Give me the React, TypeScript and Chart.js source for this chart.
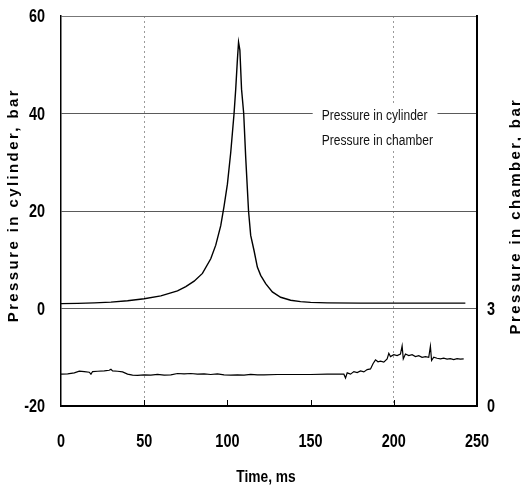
import React, { useEffect, useRef } from 'react';
import { Chart, registerables } from 'chart.js';

Chart.register(...registerables);

// ---- data ----
const seriesLabels = ['Pressure in cylinder', 'Pressure in chamber'];
const xTitle = 'Time, ms';
const leftTitle = 'Pressure in cylinder, bar';
const rightTitle = 'Pressure in chamber, bar';

const xTickValues = [0, 50, 100, 150, 200, 250];
const leftTickValues = [-20, 0, 20, 40, 60];
const rightTickValues = [0, 3];

// cylinder pressure (left axis, bar)
const cylTime = [0, 10, 20, 30, 40, 50, 60, 70, 75, 80, 85, 90, 93, 96, 98, 100, 102, 104, 105, 106, 106.7, 107.5, 108.5, 109.8, 111, 112.7, 114, 116, 118, 120, 123, 127, 132, 138, 144, 150, 160, 180, 200, 220, 243];
const cylPressure = [1.0, 1.05, 1.15, 1.3, 1.6, 2.0, 2.6, 3.6, 4.5, 5.6, 7.2, 10.2, 13, 17, 21, 25.5, 32, 40, 45, 51, 54.6, 53, 45, 40, 31, 20, 15, 11.9, 8.5, 6.8, 5.1, 3.4, 2.3, 1.7, 1.4, 1.25, 1.15, 1.1, 1.1, 1.1, 1.1];

// chamber pressure (right axis, bar)
const chTime = [0, 4, 8, 11, 14, 17, 18, 19, 22, 26, 29, 30, 31, 34, 37, 40, 43, 46, 50, 54, 58, 62, 66, 70, 74, 78, 82, 86, 90, 94, 98, 102, 106, 110, 114, 118, 122, 130, 140, 150, 160, 170, 171, 172, 174, 176, 178, 180, 182, 184, 186, 187.5, 189, 190.5, 192, 194, 196, 197, 198, 200, 202, 204, 205, 205.7, 207, 209, 211, 213, 215, 217, 219, 221, 222, 222.7, 224, 226, 228, 230, 232, 234, 236, 238, 240, 242];
const chPressure = [0.98, 0.99, 1.02, 1.07, 1.06, 1.04, 0.98, 1.06, 1.07, 1.08, 1.1, 1.13, 1.08, 1.07, 1.05, 0.98, 0.95, 0.94, 0.96, 0.95, 0.97, 0.95, 0.96, 1.0, 0.99, 1.0, 0.98, 0.99, 0.97, 0.99, 0.96, 0.95, 0.96, 0.95, 0.97, 0.96, 0.96, 0.97, 0.97, 0.97, 0.98, 0.98, 0.86, 1.02, 0.98, 1.06, 1.03, 1.08, 1.05, 1.12, 1.14, 1.3, 1.42, 1.36, 1.38, 1.35, 1.45, 1.62, 1.52, 1.58, 1.55, 1.6, 1.85, 1.45, 1.6, 1.55, 1.58, 1.52, 1.55, 1.5, 1.52, 1.5, 1.84, 1.4, 1.5, 1.47, 1.45, 1.47, 1.44, 1.46, 1.43, 1.46, 1.44, 1.45];

const SANS = "'Liberation Sans', Arial, sans-serif";

// draws horizontally condensed text (Arial-Narrow look)
function narrowText(
  ctx: CanvasRenderingContext2D,
  text: string,
  x: number,
  y: number,
  align: CanvasTextAlign,
  font: string,
  sx: number,
) {
  ctx.save();
  ctx.translate(x, y);
  ctx.scale(sx, 1);
  ctx.font = font;
  ctx.textAlign = align;
  ctx.textBaseline = 'middle';
  ctx.fillText(text, 0, 0);
  ctx.restore();
}

const overlayPlugin = {
  id: 'overlay',
  afterDraw(chart: any) {
    const ctx = chart.ctx as CanvasRenderingContext2D;
    const { left, right, top, bottom } = chart.chartArea;
    const w = right - left;
    const h = bottom - top;
    const xs = chart.scales.x;
    const ys = chart.scales.y;
    const y1 = chart.scales.y1;

    // inner tick marks on the time axis
    ctx.save();
    ctx.strokeStyle = '#000';
    ctx.lineWidth = 1;
    for (const t of xs.ticks.slice(1, -1)) {
      const px = Math.round(xs.getPixelForValue(t.value)) + 0.5;
      ctx.beginPath();
      ctx.moveTo(px, bottom);
      ctx.lineTo(px, bottom - 6);
      ctx.stroke();
    }
    ctx.restore();

    // tick labels
    ctx.save();
    ctx.fillStyle = '#000';
    const tickFont = `bold 19px ${SANS}`;
    for (const t of xs.ticks) {
      narrowText(ctx, String(t.value), xs.getPixelForValue(t.value), bottom + 36, 'center', tickFont, 0.76);
    }
    for (const t of ys.ticks) {
      narrowText(ctx, String(t.value), left - 16, ys.getPixelForValue(t.value) + 1, 'right', tickFont, 0.76);
    }
    for (const t of y1.ticks) {
      narrowText(ctx, String(t.value), right + 10, y1.getPixelForValue(t.value) + 1, 'left', tickFont, 0.76);
    }
    // x title
    narrowText(ctx, xTitle, (left + right) / 2 - 3, bottom + 72, 'center', `bold 16px ${SANS}`, 0.86);
    ctx.restore();

    // legend (text only, white background)
    ctx.save();
    const bx = left + w * 0.605;
    const by = top + h * 0.23;
    ctx.fillStyle = '#fff';
    ctx.fillRect(bx, by, w * 0.3, h * 0.115);
    ctx.fillStyle = '#111';
    seriesLabels.forEach((t, i) => {
      narrowText(ctx, t, bx + w * 0.022, by + h * 0.026 + i * 25, 'left', `14px ${SANS}`, 0.86);
    });
    ctx.restore();

    // vertical axis titles
    const drawVTitle = (text: string, x: number, y: number) => {
      ctx.save();
      ctx.translate(x, y);
      ctx.rotate(-Math.PI / 2);
      ctx.font = `bold 15px ${SANS}`;
      (ctx as any).letterSpacing = '2.4px';
      ctx.fillStyle = '#000';
      ctx.textAlign = 'center';
      ctx.textBaseline = 'alphabetic';
      ctx.fillText(text, 0, 0);
      ctx.restore();
    };
    drawVTitle(leftTitle, 18, top + h * 0.485);
    drawVTitle(rightTitle, chart.width - 1, top + h * 0.513);
  },
};

export default function App() {
  const ref = useRef<HTMLCanvasElement | null>(null);

  useEffect(() => {
    if (!ref.current) return;
    const cyl = cylTime.map((t, i) => ({ x: t, y: cylPressure[i] }));
    const ch = chTime.map((t, i) => ({ x: t, y: chPressure[i] }));

    const chart = new Chart(ref.current, {
      type: 'line',
      data: {
        datasets: [
          {
            label: seriesLabels[0],
            data: cyl,
            yAxisID: 'y',
            borderColor: '#000',
            borderWidth: 1.4,
            pointRadius: 0,
            tension: 0,
          },
          {
            label: seriesLabels[1],
            data: ch,
            yAxisID: 'y1',
            borderColor: '#000',
            borderWidth: 1.2,
            pointRadius: 0,
            tension: 0,
          },
        ],
      },
      options: {
        responsive: false,
        animation: false,
        events: [],
        layout: { padding: { top: 16, left: 0, right: 0, bottom: 0 } },
        plugins: { legend: { display: false }, tooltip: { enabled: false } },
        scales: {
          x: {
            type: 'linear',
            min: 0,
            max: 250,
            afterBuildTicks: (s: any) => {
              s.ticks = xTickValues.map((v) => ({ value: v }));
            },
            afterFit: (s: any) => {
              s.height = 87;
            },
            ticks: { display: false },
            grid: {
              drawTicks: false,
              lineWidth: 1,
              color: (c: any) => (c.tick && (c.tick.value === 50 || c.tick.value === 200) ? '#9a9a9a' : 'rgba(0,0,0,0)'),
            },
            border: { display: true, color: '#000', width: 2, dash: [2, 3] },
          },
          y: {
            type: 'linear',
            position: 'left',
            min: -20,
            max: 60,
            afterBuildTicks: (s: any) => {
              s.ticks = leftTickValues.map((v) => ({ value: v }));
            },
            afterFit: (s: any) => {
              s.width = 61;
            },
            ticks: { display: false },
            grid: {
              drawTicks: false,
              lineWidth: 1,
              color: (c: any) => {
                const v = c.tick ? c.tick.value : null;
                if (v === -20) return 'rgba(0,0,0,0)';
                if (v === 60) return '#777';
                return '#5a5a5a';
              },
            },
            border: { display: true, color: '#000', width: 1.5 },
          },
          y1: {
            type: 'linear',
            position: 'right',
            min: 0,
            max: 12,
            afterBuildTicks: (s: any) => {
              s.ticks = rightTickValues.map((v) => ({ value: v }));
            },
            afterFit: (s: any) => {
              s.width = 44;
            },
            ticks: { display: false },
            grid: { display: false, drawTicks: false },
            border: { display: true, color: '#000', width: 2 },
          },
        },
      },
      plugins: [overlayPlugin],
    } as any);

    return () => chart.destroy();
  }, []);

  return (
    <div style={{ position: 'absolute', left: 0, top: 0, width: 521, height: 493, background: '#fff' }}>
      <canvas ref={ref} width={521} height={493} style={{ display: 'block' }} />
    </div>
  );
}
